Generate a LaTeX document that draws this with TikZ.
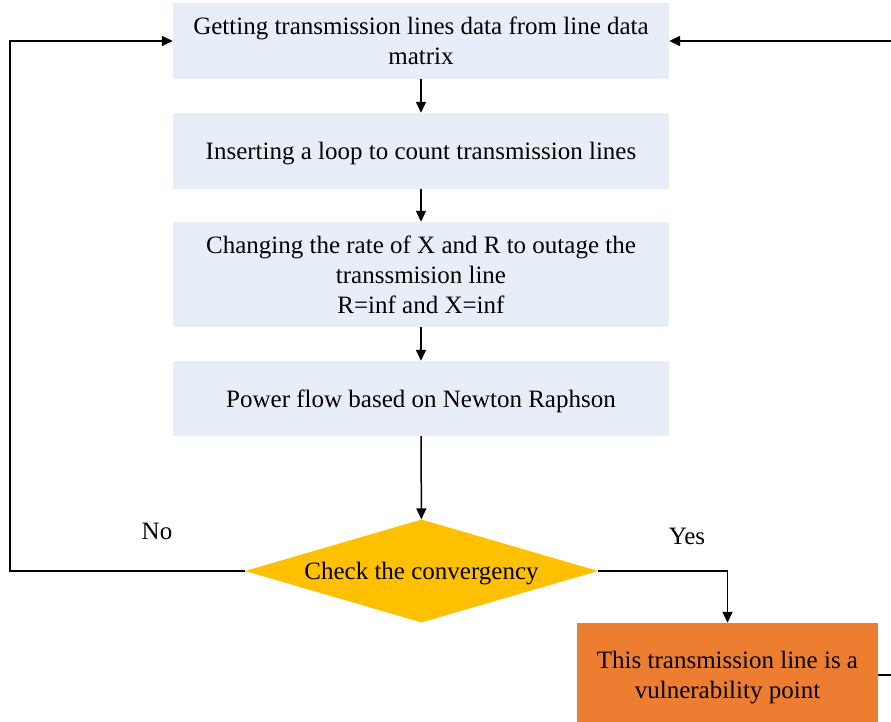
\documentclass[tikz,border=0pt]{standalone}
\usepackage{fontspec}
\setmainfont{Liberation Serif}
\usetikzlibrary{arrows.meta,shapes.geometric}
\definecolor{boxblue}{HTML}{E8EEF8}
\definecolor{decgold}{HTML}{FFC000}
\definecolor{resorange}{HTML}{ED7D31}
\tikzset{
  bigtext/.style={font=\fontsize{25}{30}\selectfont},
  procbox/.style={bigtext, fill=boxblue, draw=none, minimum width=496pt, align=center,
    inner sep=0pt, text depth=0pt},
  decision/.style={bigtext, diamond, fill=decgold, draw=none, minimum width=353pt,
    minimum height=103pt, aspect=3.43, inner sep=0pt, text depth=0pt},
  resultbox/.style={bigtext, fill=resorange, draw=none, minimum width=301pt, minimum height=104pt,
    align=center, inner sep=0pt, text depth=0pt},
  flow/.style={line width=1.5pt, -{Triangle[length=11pt,width=10pt]}},
  lbl/.style={bigtext, inner sep=0pt}
}
\begin{document}
\begin{tikzpicture}[x=1pt,y=-1pt]
\useasboundingbox (0,0) rectangle (891,722);
\clip (0,0) rectangle (891,722);

% process steps
\node[procbox, minimum height=76pt] (b1) at (421,41)
  {Getting transmission lines data from line data\\matrix};
\node[procbox, minimum height=76pt] (b2) at (421,151)
  {Inserting a loop to count transmission lines};
\node[procbox, minimum height=105pt] (b3) at (421,274.5)
  {Changing the rate of X and R to outage the\\transsmision line\\R=inf and X=inf};
\node[procbox, minimum height=75pt] (b4) at (421,398.5)
  {Power flow based on Newton Raphson};

% decision and result
\node[decision] (dec) at (421.5,571) {Check the convergency};
\node[resultbox] (res) at (727.5,675)
  {This transmission line is a\\vulnerability point};

% branch labels
\node[lbl] (no) at (157,531) {No};
\node[lbl] (yes) at (687,536) {Yes};

\coordinate (lcorner) at (10,571);
\coordinate (rcorner) at (905,675);

% connectors
\draw[flow] (b1) -- (b2);
\draw[flow] (b2) -- (b3);
\draw[flow] (b3) -- (b4);
\draw[flow] (b4) -- (dec);
\draw[flow] (dec.west) -- (lcorner) |- (b1.west);
\draw[flow] (dec.east) -| (res.north);
\draw[flow] (res.east) -- (rcorner) |- (b1.east);
\end{tikzpicture}
\end{document}
